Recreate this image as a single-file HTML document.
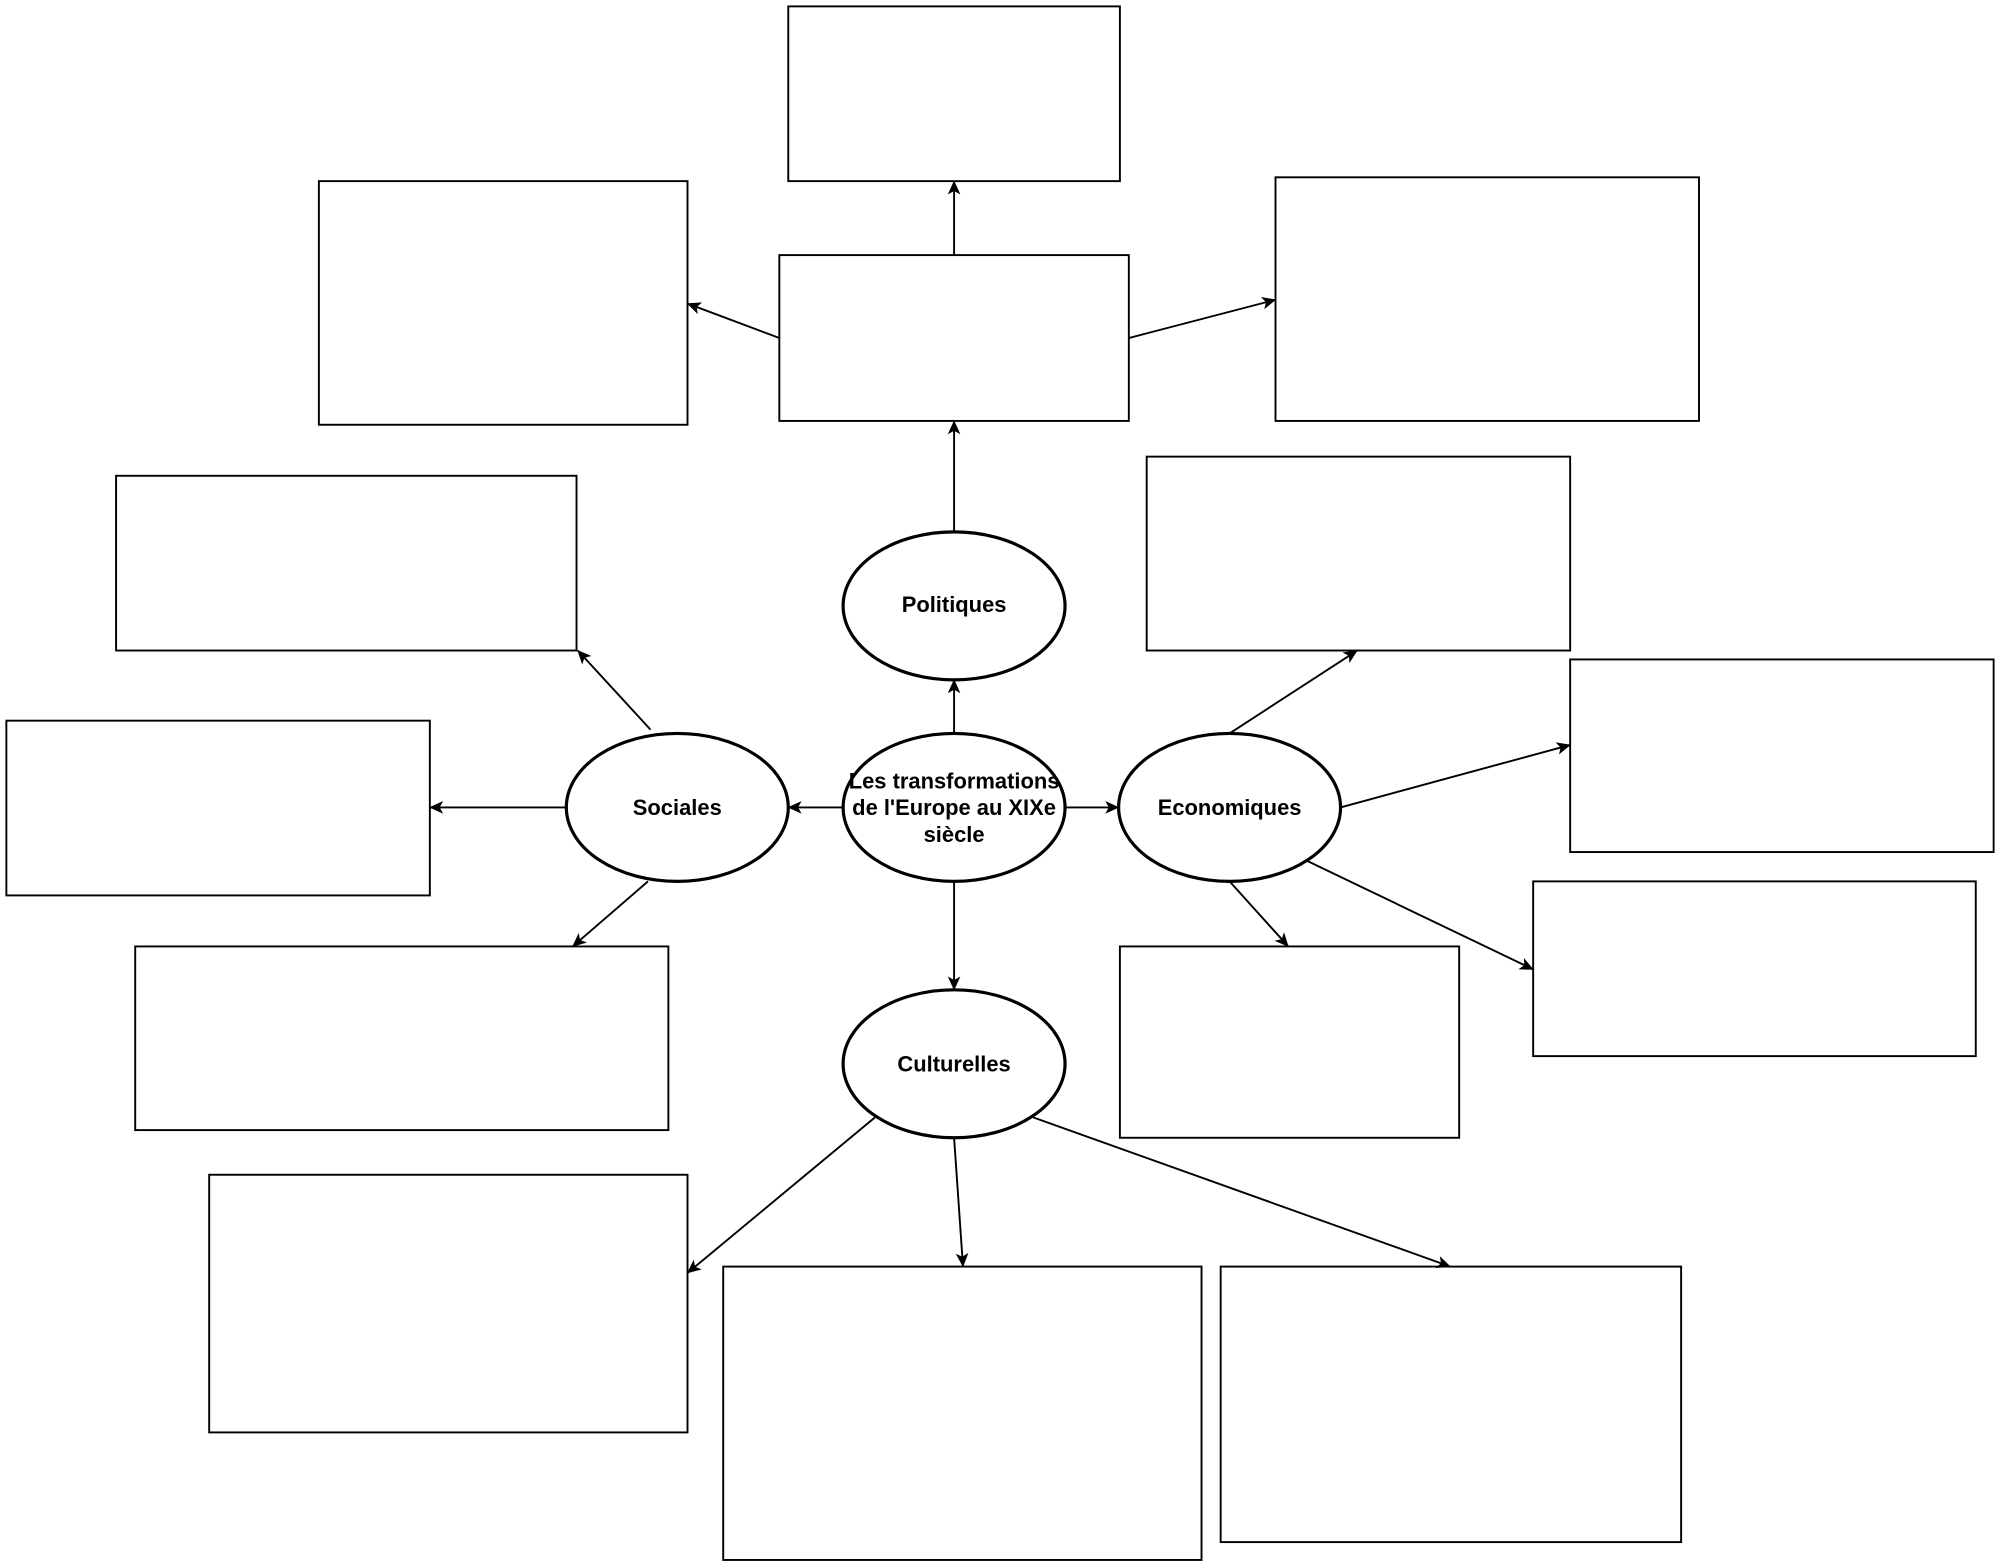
<!DOCTYPE html>
<html><head><meta charset="utf-8"><style>html,body{margin:0;padding:0;background:#fff;}svg{display:block}</style></head>
<body>
<svg width="2000" height="1568" viewBox="0 0 1568 1229.3" xmlns="http://www.w3.org/2000/svg">
<defs>
<marker id="a" viewBox="0 0 10 10" refX="9.5" refY="5" markerWidth="11" markerHeight="11" markerUnits="userSpaceOnUse" orient="auto">
<path d="M0,0.5 L10,5 L0,9.5 L2.5,5 Z" fill="#000"/>
</marker>
</defs>
<g fill="#fff" stroke="#000" stroke-width="1.5">
<rect x="618" y="5" width="260" height="137"/>
<rect x="250" y="142" width="289" height="191"/>
<rect x="611" y="200" width="274" height="130"/>
<rect x="1000" y="139" width="332" height="191"/>
<rect x="91" y="373" width="361" height="137"/>
<rect x="899" y="358" width="332" height="152"/>
<rect x="5" y="565" width="332" height="137"/>
<rect x="1231" y="517" width="332" height="151"/>
<rect x="1202" y="691" width="347" height="137"/>
<rect x="106" y="742" width="418" height="144"/>
<rect x="878" y="742" width="266" height="150"/>
<rect x="164" y="921" width="375" height="202"/>
<rect x="567" y="993" width="375" height="230"/>
<rect x="957" y="993" width="361" height="216"/>
</g>
<g stroke="#000" stroke-width="1.5" fill="none" marker-end="url(#a)">
<line x1="748" y1="417" x2="748" y2="330"/>
<line x1="748" y1="200" x2="748" y2="142"/>
<line x1="611" y1="265" x2="539" y2="238"/>
<line x1="885" y1="265" x2="1000" y2="235"/>
<line x1="748" y1="575" x2="748" y2="533"/>
<line x1="661" y1="633" x2="618" y2="633"/>
<line x1="834" y1="633" x2="877" y2="633"/>
<line x1="748" y1="691" x2="748" y2="776"/>
<line x1="444" y1="633" x2="337" y2="633"/>
<line x1="510" y1="572" x2="453" y2="510"/>
<line x1="508" y1="691" x2="449" y2="742"/>
<line x1="964" y1="575" x2="1064" y2="510"/>
<line x1="1051" y1="633" x2="1231" y2="584"/>
<line x1="1025" y1="675" x2="1202" y2="760"/>
<line x1="964" y1="691" x2="1010" y2="742"/>
<line x1="686" y1="876" x2="539" y2="998"/>
<line x1="748" y1="892" x2="755" y2="993"/>
<line x1="810" y1="876" x2="1137" y2="993"/>
</g>
<g fill="#fff" stroke="#000" stroke-width="2.5">
<ellipse cx="748" cy="475" rx="87" ry="58"/>
<ellipse cx="748" cy="633" rx="87" ry="58"/>
<ellipse cx="531" cy="633" rx="87" ry="58"/>
<ellipse cx="964" cy="633" rx="87" ry="58"/>
<ellipse cx="748" cy="834" rx="87" ry="58"/>
</g>
<g font-family="Liberation Sans, Arial, sans-serif" font-weight="bold" font-size="17.2" text-anchor="middle" fill="#000">
<text x="748" y="480">Politiques</text>
<text x="748" y="618">Les transformations</text>
<text x="748" y="639">de l'Europe au XIXe</text>
<text x="748" y="660">siècle</text>
<text x="531" y="639">Sociales</text>
<text x="964" y="639">Economiques</text>
<text x="748" y="840">Culturelles</text>
</g>
</svg>
</body></html>
